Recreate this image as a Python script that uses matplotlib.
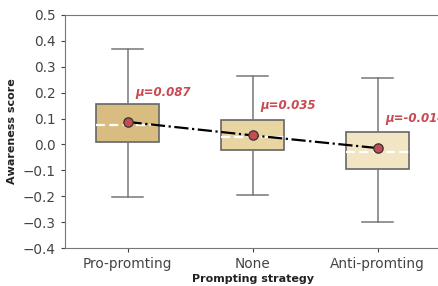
import numpy as np
import matplotlib.pyplot as plt

categories = ["Pro-promting", "None", "Anti-promting"]
whislo = [-0.202, -0.195, -0.301]
q1 = [0.010, -0.021, -0.095]
med = [0.075, 0.028, -0.028]
q3 = [0.155, 0.094, 0.047]
whishi = [0.369, 0.266, 0.258]
means = [0.087, 0.035, -0.014]
colors = ["#D9BC80", "#E8D5A2", "#F1E5C3"]
yticks = [-0.4, -0.3, -0.2, -0.1, 0.0, 0.1, 0.2, 0.3, 0.4, 0.5]

fig = plt.figure(figsize=(4.38, 2.86), dpi=100)
ax = fig.add_axes([65 / 438, 38 / 286, 375 / 438, 233 / 286])

stats = []
for i in range(len(categories)):
    stats.append(dict(whislo=whislo[i], q1=q1[i], med=med[i], q3=q3[i],
                      whishi=whishi[i], fliers=[], label=categories[i]))

x = np.arange(len(categories))
bp = ax.bxp(stats, positions=x, widths=0.5, patch_artist=True, showfliers=False,
            boxprops=dict(edgecolor="#666666", linewidth=1.2),
            whiskerprops=dict(color="#777777", linewidth=1.1),
            capprops=dict(color="#777777", linewidth=1.1),
            medianprops=dict(color="white", linewidth=1.6, linestyle=(0, (4, 2))))
for patch, c in zip(bp["boxes"], colors):
    patch.set_facecolor(c)

ax.plot(x, means, color="black", linestyle="-.", linewidth=1.6, zorder=4)
ax.scatter(x, means, s=45, color="#C94A52", edgecolor="#333333", linewidth=0.9, zorder=5)
for i, m in enumerate(means):
    ax.text(i + 0.06, m + 0.115, f"μ={m:.3f}", color="#C94A52", fontsize=8.5,
            fontweight="bold", fontstyle="italic", va="center", ha="left")

ax.set_xlim(-0.5, 2.5)
ax.set_ylim(-0.4, 0.5)
ax.set_yticks(yticks)
ax.set_yticklabels([f"{v:.1f}".replace("-", "\u2212") for v in yticks])
ax.set_xticks(x)
ax.set_xticklabels(categories)
ax.tick_params(labelsize=9.8, colors="#444444", length=3)
for s in ax.spines.values():
    s.set_color("#777777")
ax.set_xlabel("Prompting strategy", fontsize=8, fontweight="bold", color="#222222", labelpad=2)
ax.set_ylabel("Awareness score", fontsize=8, fontweight="bold", color="#222222")

fig.savefig("out.png", dpi=100)
